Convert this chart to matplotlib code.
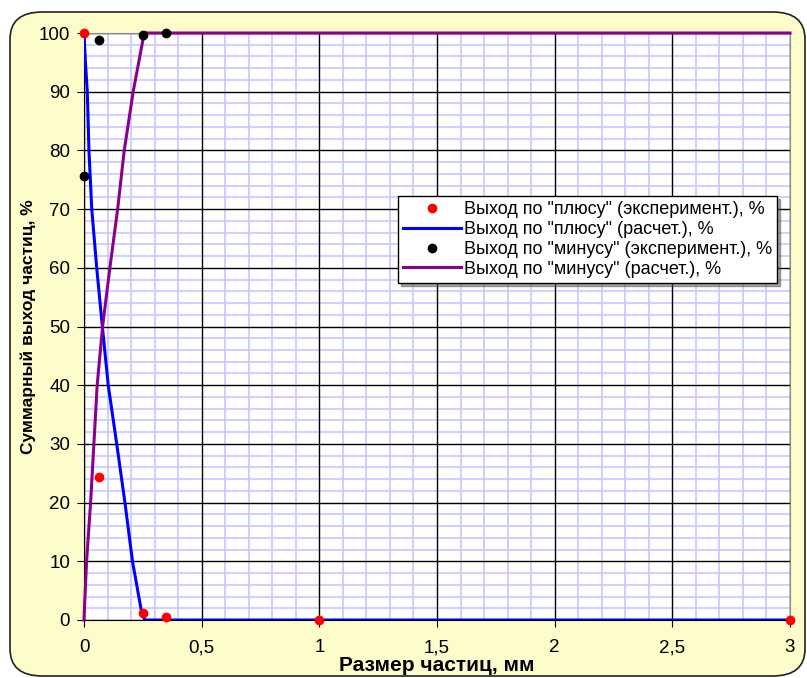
import matplotlib.pyplot as plt
from matplotlib.patches import FancyBboxPatch

plt.rcParams['font.family'] = ['Liberation Sans', 'DejaVu Sans']

# experimental points, "plus" yield
plus_exp_x = [0, 0.065, 0.25, 0.35, 1, 3]
plus_exp_y = [100, 24.3, 1.2, 0.5, 0, 0]

# calculated curve, "plus" yield
plus_calc_x = [0, 0.006, 0.014, 0.021, 0.033, 0.054, 0.078, 0.103, 0.139, 0.174, 0.206, 0.244, 0.258, 0.35, 1, 3]
plus_calc_y = [100, 95, 90, 80, 70, 60, 50, 40, 30, 20, 10, 1.5, 0, 0, 0, 0]

# experimental points, "minus" yield
minus_exp_x = [0, 0.065, 0.25, 0.35]
minus_exp_y = [75.7, 98.8, 99.6, 100]

# calculated curve, "minus" yield
minus_calc_x = [0, 0.003, 0.011, 0.028, 0.042, 0.056, 0.079, 0.11, 0.143, 0.171, 0.209, 0.254, 0.262, 1, 3]
minus_calc_y = [0, 3, 10, 20, 30, 40, 50, 60, 70, 80, 90, 99.6, 100, 100, 100]

x_ticks = [0, 0.5, 1, 1.5, 2, 2.5, 3]
x_tick_labels = ["0", "0,5", "1", "1,5", "2", "2,5", "3"]
y_ticks = list(range(0, 101, 10))

bg = "#fffccc"
fig = plt.figure(figsize=(8.07, 6.78), dpi=100)
fig.patch.set_facecolor("white")
# rounded chart frame
frame = FancyBboxPatch((10 / 807, 2 / 678), 795 / 807, 664 / 678,
                       boxstyle="round,pad=0,rounding_size=0.04",
                       transform=fig.transFigure, facecolor=bg,
                       edgecolor="#222222", linewidth=1.2, zorder=-1)
fig.patches.append(frame)

ax = fig.add_axes([84 / 807, 1 - 620 / 678, (790 - 84) / 807, (620 - 33) / 678])
ax.set_facecolor("white")

ax.set_xlim(0, 3)
ax.set_ylim(0, 100)
ax.set_xticks(x_ticks)
ax.set_xticklabels(x_tick_labels)
ax.set_yticks(y_ticks)

# light blue minor grid, drawn under the black major grid
minor_x = [i / 10 for i in range(31) if i % 5 != 0]
minor_y = [i for i in range(0, 101, 2) if i % 10 != 0]
ax.vlines(minor_x, 0, 100, color="#c8c8ff", linewidth=1.2, zorder=0.1)
ax.hlines(minor_y, 0, 3, color="#c8c8ff", linewidth=1.2, zorder=0.1)
ax.grid(which="major", color="black", linewidth=1.0)
ax.set_axisbelow(True)
ax.tick_params(which="major", length=5, direction="out", labelsize=13.5, pad=9)
ax.tick_params(axis="y", pad=5)

for side in ["top", "right"]:
    ax.spines[side].set_color("#888888")
for side in ["left", "bottom"]:
    ax.spines[side].set_color("black")

ax.plot(plus_exp_x, plus_exp_y, "o", color="red", markersize=6, clip_on=False, zorder=5,
        label='Выход по "плюсу" (эксперимент.), %')
ax.plot(plus_calc_x, plus_calc_y, "-", color="blue", linewidth=2.2, zorder=4,
        label='Выход по "плюсу" (расчет.), %')
ax.plot(minus_exp_x, minus_exp_y, "o", color="black", markersize=6, clip_on=False, zorder=5,
        label='Выход по "минусу" (эксперимент.), %')
ax.plot(minus_calc_x, minus_calc_y, "-", color="#8b008b", linewidth=2.2, zorder=4, clip_on=False,
        label='Выход по "минусу" (расчет.), %')

leg = ax.legend(loc="upper left", bbox_to_anchor=((398 - 84) / 706, (620 - 196) / 587),
                borderaxespad=0, frameon=True, fancybox=False, shadow=True, fontsize=13,
                borderpad=0.3, labelspacing=0.15, handlelength=3.2, handletextpad=0.15,
                markerscale=1.0)
leg.get_frame().set_edgecolor("black")
leg.get_frame().set_linewidth(1.0)

ax.set_xlabel("Размер частиц, мм", fontsize=15, fontweight="bold", labelpad=0)
ax.set_ylabel("Суммарный выход частиц, %", fontsize=12.5, fontweight="bold", labelpad=2)

fig.savefig("out.png", dpi=100, facecolor=fig.get_facecolor())
